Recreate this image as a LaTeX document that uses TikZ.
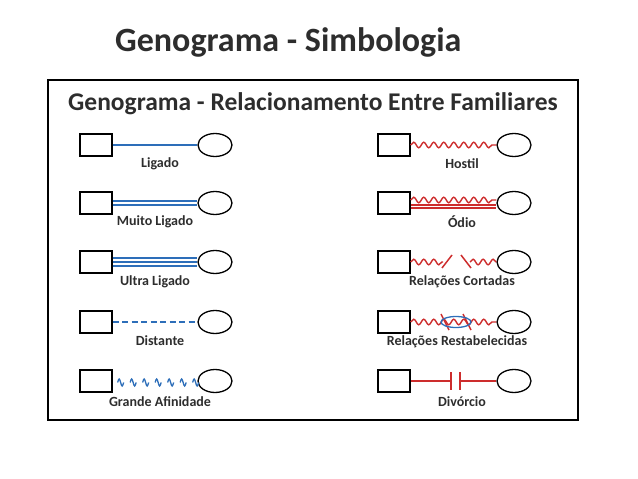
\documentclass[tikz,border=0pt]{standalone}
\usepackage{fontspec}
\setmainfont{Carlito}
\usetikzlibrary{decorations.pathmorphing,calc,shapes.geometric}
\definecolor{bl}{RGB}{45,110,185}
\definecolor{rd}{RGB}{205,45,45}
\definecolor{tx}{RGB}{45,45,45}
\tikzset{
  x=1pt,y=-1pt,
  sq/.style={draw,line width=1.3pt,minimum width=32pt,minimum height=22pt,inner sep=0pt},
  ci/.style={draw,ellipse,line width=1.3pt,minimum width=34pt,minimum height=23pt,inner sep=0pt},
  lbl/.style={font=\bfseries\fontsize{14}{16}\selectfont,text=tx},
  bline/.style={bl,line width=1.6pt},
  rline/.style={rd,line width=1.5pt},
  zz/.style={rd,line width=1.4pt,decorate,decoration={snake,segment length=10pt,amplitude=2.8pt}},
}
\begin{document}
\begin{tikzpicture}
\useasboundingbox (0,0) rectangle (638,479);
\node[font=\bfseries\fontsize{34}{38}\selectfont,text=tx,anchor=west,inner sep=0pt] (t) at (115,42) {Genograma - Simbologia};
\draw[line width=2.8pt] (48,80) rectangle (578,420);
\node[font=\bfseries\fontsize{25.5}{28}\selectfont,text=tx] (t2) at (313,104) {Genograma - Relacionamento Entre Familiares};
\foreach \i/\y in {1/145,2/203,3/262,4/322,5/381}{
  \node[sq] (ls\i) at (96,\y) {};
  \node[ci] (lc\i) at (215,\y) {};
  \node[sq] (rs\i) at (394,\y) {};
  \node[ci] (rc\i) at (514,\y) {};
}
\draw[bline] (ls1) -- (lc1);
\node[lbl] (l1) at (160,164) {Ligado};
\draw[bline] ([yshift=2pt]ls2.east) -- ([yshift=2pt]lc2.west);
\draw[bline] ([yshift=-2pt]ls2.east) -- ([yshift=-2pt]lc2.west);
\node[lbl] (l2) at (155,222) {Muito Ligado};
\draw[bline] ([yshift=4pt]ls3.east) -- ([yshift=4pt]lc3.west);
\draw[bline] (ls3.east) -- (lc3.west);
\draw[bline] ([yshift=-4pt]ls3.east) -- ([yshift=-4pt]lc3.west);
\node[lbl] (l3) at (155,282) {Ultra Ligado};
\draw[bline,dash pattern=on 6pt off 3.5pt] (ls4) -- (lc4);
\node[lbl] (l4) at (160,341) {Distante};
\foreach \k in {0,...,6}{
  \draw[bl,line width=1.3pt] ($(ls5.east)+(5+12.5*\k,1.5)$) sin ++(1.5,-3.5) cos ++(1.5,3.5) sin ++(1.5,3.5) cos ++(1.5,-3.5);
}
\node[lbl] (l5) at (160,402) {Grande Afinidade};
\draw[zz] (rs1) -- (rc1);
\node[lbl] (r1) at (462,164) {Hostil};
\draw[zz] ([yshift=3pt]rs2.east) -- ([yshift=3pt]rc2.west);
\draw[rline] ([yshift=-2pt]rs2.east) -- ([yshift=-2pt]rc2.west);
\draw[rline] ([yshift=-5pt]rs2.east) -- ([yshift=-5pt]rc2.west);
\node[lbl] (r2) at (462,222) {Ódio};
\coordinate (c1) at (443,262);
\coordinate (c2) at (470,262);
\draw[zz] (rs3.east) -- (c1);
\draw[zz] (c2) -- (rc3.west);
\draw[rline] (442,268) -- (452,255);
\draw[rline] (461,255) -- (471,268);
\node[lbl] (r3) at (462,282) {Relações Cortadas};
\draw[zz] (rs4) -- (rc4);
\draw[rline] (441,314) -- (449,330);
\draw[rline] (463,314) -- (471,330);
\node[draw=bl,ellipse,line width=1.3pt,minimum width=30pt,minimum height=11pt,inner sep=0pt] (e4) at (456,322) {};
\node[lbl] (r4) at (457,342) {Relações Restabelecidas};
\coordinate (d1) at (451,381);
\coordinate (d2) at (460,381);
\draw[rline] (rs5) -- (d1);
\draw[rline] (d2) -- (rc5);
\draw[rline] (451,372) -- (451,390);
\draw[rline] (460,372) -- (460,390);
\node[lbl] (r5) at (462,402) {Divórcio};
\end{tikzpicture}
\end{document}
